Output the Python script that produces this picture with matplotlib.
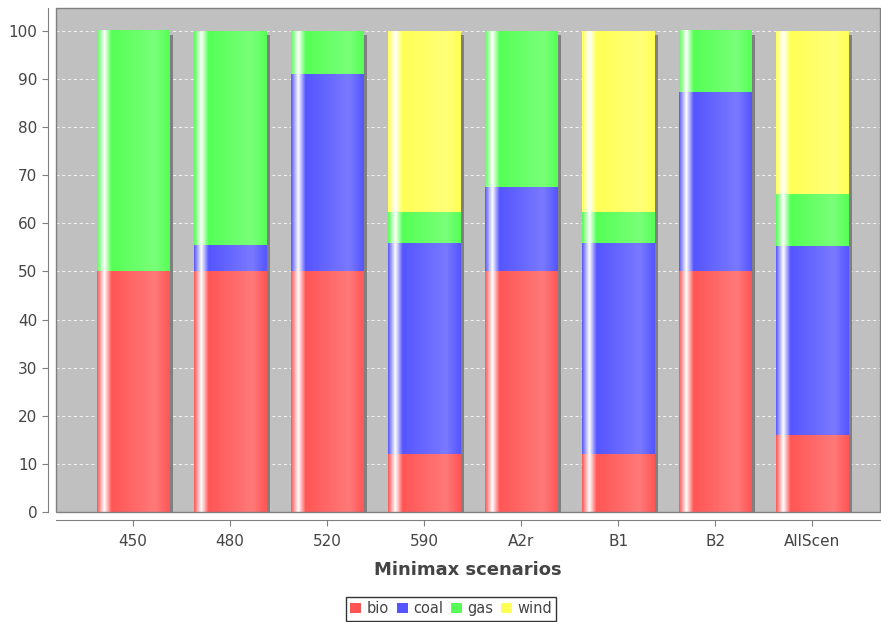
import numpy as np
import matplotlib
matplotlib.use("Agg")
import matplotlib.pyplot as plt
import matplotlib.transforms as mtransforms
from matplotlib.patches import Rectangle, Patch

# data (percent)
scenarios = ["450", "480", "520", "590", "A2r", "B1", "B2", "AllScen"]
bio = [50, 50, 50, 12.1, 50, 12.1, 50, 15.9]
coal = [0, 5.5, 41.2, 43.8, 17.6, 43.8, 37.3, 39.4]
gas = [50, 44.5, 8.8, 6.5, 32.4, 6.5, 12.7, 10.8]
wind = [0, 0, 0, 37.6, 0, 37.6, 0, 33.9]
series_names = ["bio", "coal", "gas", "wind"]
series_colors = ["#FF5555", "#5555FF", "#55FF55", "#FFFF55"]

plt.rcParams['font.family'] = ['DejaVu Sans']

fig = plt.figure(figsize=(8.81, 6.22), dpi=100)
ax = fig.add_axes([56 / 881, 1 - 511.7 / 622, 824 / 881, 503.7 / 622])
ax.set_facecolor("#C0C0C0")

x = np.arange(len(scenarios))
bar_w = 0.75


def hex_rgb(h):
    h = h.lstrip("#")
    return np.array([int(h[i:i + 2], 16) for i in (0, 2, 4)]) / 255.0


def gradient_row(base, n=300):
    c0 = hex_rgb(base)
    c1 = np.minimum(c0 / 0.7, 1.0)
    white = np.ones(3)
    t = np.linspace(0, 1, n)
    row = np.zeros((n, 3))
    for i, v in enumerate(t):
        if v < 0.10:
            f = v / 0.10
            row[i] = c0 + (white - c0) * f
        elif v < 0.20:
            f = (v - 0.10) / 0.10
            row[i] = white + (c0 - white) * f
        elif v < 0.80:
            f = (v - 0.20) / 0.60
            row[i] = c0 + (c1 - c0) * f
        else:
            f = (v - 0.80) / 0.20
            row[i] = c1 + (c0 - c1) * f
    return row[np.newaxis, :, :]


grads = [gradient_row(c) for c in series_colors]

# gridlines
for yv in range(0, 101, 10):
    ax.axhline(yv, color="white", lw=0.7, ls=(0, (3, 3)), alpha=0.85, zorder=1)

shadow_tr = mtransforms.offset_copy(ax.transData, fig=fig, x=4, y=-4, units="dots")
stack = [bio, coal, gas, wind]
for i in range(len(scenarios)):
    total = sum(s[i] for s in stack)
    ax.add_patch(Rectangle((x[i] - bar_w / 2, 0), bar_w, total, transform=shadow_tr,
                           facecolor="#808080", edgecolor="none", zorder=2))
    bottom = 0
    for s, g in zip(stack, grads):
        v = s[i]
        if v <= 0:
            continue
        ax.imshow(g, extent=[x[i] - bar_w / 2, x[i] + bar_w / 2, bottom, bottom + v],
                  aspect="auto", interpolation="bilinear", zorder=3)
        bottom += v

ax.set_xlim(-0.794, 7.70)
ax.set_ylim(0, 104.85)

# plot outline
ax.add_patch(Rectangle((0, 0), 1, 1, transform=ax.transAxes, fill=False,
                       edgecolor="#808080", lw=1.0, zorder=5, clip_on=False))

for sp in ["top", "right"]:
    ax.spines[sp].set_visible(False)
for sp in ["left", "bottom"]:
    ax.spines[sp].set_position(("outward", 6))
    ax.spines[sp].set_color("#808080")

ax.set_xticks(x)
ax.set_xticklabels(scenarios)
ax.set_yticks(range(0, 101, 10))
ax.tick_params(axis="both", colors="#808080", labelcolor="#444444", labelsize=11, length=4)
ax.tick_params(axis="x", pad=6)
ax.set_xlabel("Minimax scenarios", fontsize=13, fontweight="bold", color="#444444", labelpad=9)

handles = [Patch(facecolor=c, edgecolor="none") for c in series_colors]
leg = fig.legend(handles, series_names, loc="lower center", bbox_to_anchor=(0.512, 0.0),
                 ncol=4, frameon=True, fancybox=False, fontsize=10.5, handlelength=0.75,
                 handleheight=0.75, handletextpad=0.35, columnspacing=0.55,
                 borderpad=0.3, borderaxespad=0.1)
leg.get_frame().set_edgecolor("black")
leg.get_frame().set_linewidth(1.0)
for t in leg.get_texts():
    t.set_color("#444444")

fig.savefig("out.png", dpi=100)
